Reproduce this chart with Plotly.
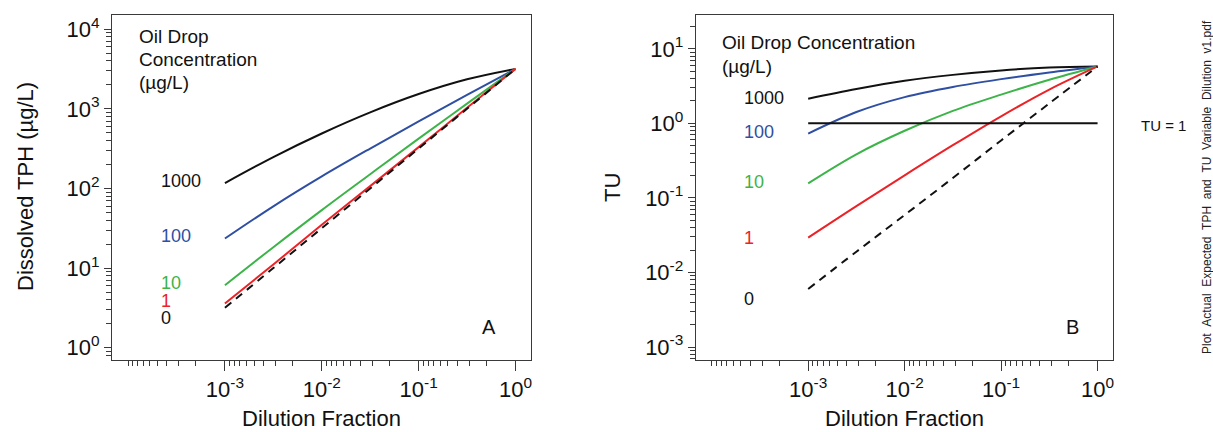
import plotly.graph_objects as go

# ---------------- data ----------------
dilution = [0.001, 0.00316, 0.01, 0.0316, 0.1, 0.316, 1.0]

# Panel A: dissolved TPH (ug/L) by oil drop concentration (ug/L)
tph_0 = [3.17, 10.0, 31.7, 100, 317, 1000, 3170]
tph_1 = [3.6, 11.1, 35.0, 107, 330, 1030, 3170]
tph_10 = [6.1, 18.3, 53.5, 151, 422, 1161, 3170]
tph_100 = [23.5, 59.7, 141.6, 317, 693, 1493, 3170]
tph_1000 = [117, 248, 490, 902, 1531, 2344, 3170]

# Panel B: toxic units
tu_0 = [0.0060, 0.019, 0.059, 0.185, 0.59, 1.85, 5.8]
tu_1 = [0.0294, 0.0778, 0.201, 0.509, 1.245, 2.84, 5.8]
tu_10 = [0.157, 0.385, 0.796, 1.47, 2.43, 3.85, 5.8]
tu_100 = [0.73, 1.42, 2.25, 3.08, 3.92, 4.82, 5.8]
tu_1000 = [2.14, 2.88, 3.72, 4.47, 5.13, 5.62, 5.8]

tu_ref_x = [0.001, 1.0]
tu_ref_y = [1.0, 1.0]

conc_labels = ["1000", "100", "10", "1", "0"]
x_tickvals = [0.001, 0.01, 0.1, 1.0]
x_ticktext = ["10<sup>-3</sup>", "10<sup>-2</sup>", "10<sup>-1</sup>", "10<sup>0</sup>"]
yA_tickvals = [1, 10, 100, 1000, 10000]
yA_ticktext = ["10<sup>0</sup>", "10<sup>1</sup>", "10<sup>2</sup>", "10<sup>3</sup>", "10<sup>4</sup>"]
yB_tickvals = [0.001, 0.01, 0.1, 1, 10]
yB_ticktext = ["10<sup>-3</sup>", "10<sup>-2</sup>", "10<sup>-1</sup>", "10<sup>0</sup>", "10<sup>1</sup>"]

# ---------------- style ----------------
W, H = 1213, 432
FONT = "Liberation Sans, Arial, Helvetica, sans-serif"
BLACK = "#111111"
BLUE = "#2f4fa3"
GREEN = "#3db449"
RED = "#ec2227"
FRAME = "#3a3a3a"
colors = [BLACK, BLUE, GREEN, RED, BLACK]


def fx(p):
    return p / W


def fy(p):
    return 1 - p / H


x_minor = [10 ** k * 10 / m for k in range(-4, 0) for m in range(2, 10)] + [1e-4]
yA_minor = [m * 10 ** k for k in range(-1, 4) for m in range(2, 10)]
yB_minor = [m * 10 ** k for k in range(-4, 2) for m in range(2, 10)]

fig = go.Figure()

seriesA = [tph_1000, tph_100, tph_10, tph_1, tph_0]
seriesB = [tu_1000, tu_100, tu_10, tu_1, tu_0]
for vals, col, lab in zip(seriesA, colors, conc_labels):
    fig.add_trace(go.Scatter(
        x=dilution, y=vals, mode="lines", name=lab, showlegend=False,
        line=dict(color=col, width=2, shape="spline",
                  dash="8px,6px" if lab == "0" else "solid"),
        xaxis="x", yaxis="y"))
for vals, col, lab in zip(seriesB, colors, conc_labels):
    fig.add_trace(go.Scatter(
        x=dilution, y=vals, mode="lines", name=lab, showlegend=False,
        line=dict(color=col, width=2, shape="spline",
                  dash="8px,6px" if lab == "0" else "solid"),
        xaxis="x2", yaxis="y2"))
fig.add_trace(go.Scatter(x=tu_ref_x, y=tu_ref_y, mode="lines", showlegend=False,
                         line=dict(color=BLACK, width=2), xaxis="x2", yaxis="y2"))

xrange = [-4.166, 0.16]
common_x = dict(type="log", range=xrange, showline=True, linecolor=FRAME, linewidth=1,
                mirror=True, ticks="outside", ticklen=10, tickwidth=1, tickcolor=FRAME,
                tickvals=x_tickvals, ticktext=x_ticktext, showgrid=False, zeroline=False,
                automargin=False,
                tickfont=dict(size=22, color=BLACK, family=FONT),
                minor=dict(tickvals=x_minor, ticks="outside", ticklen=5, tickwidth=1,
                           tickcolor=FRAME, showgrid=False))
common_y = dict(type="log", showline=True, linecolor=FRAME, linewidth=1, mirror=True,
                ticks="outside", ticklen=7, tickwidth=1, tickcolor=FRAME, showgrid=False,
                zeroline=False, automargin=False,
                tickfont=dict(size=22, color=BLACK, family=FONT))

ydom = [fy(360), fy(14.5)]
fig.update_layout(
    width=W, height=H, margin=dict(l=0, r=0, t=0, b=0, autoexpand=False),
    paper_bgcolor="white", plot_bgcolor="white",
    font=dict(family=FONT, color=BLACK),
    xaxis=dict(domain=[fx(112), fx(531)], anchor="y", **common_x),
    xaxis2=dict(domain=[fx(695.7), fx(1113)], anchor="y2", **common_x),
    yaxis=dict(domain=ydom, anchor="x", range=[-0.154, 4.184],
               tickvals=yA_tickvals, ticktext=yA_ticktext,
               minor=dict(tickvals=yA_minor, ticks="outside", ticklen=5, tickwidth=1,
                          tickcolor=FRAME, showgrid=False),
               **common_y),
    yaxis2=dict(domain=ydom, anchor="x2", range=[-3.174, 1.46],
                tickvals=yB_tickvals, ticktext=yB_ticktext,
                minor=dict(tickvals=yB_minor, ticks="outside", ticklen=5, tickwidth=1,
                           tickcolor=FRAME, showgrid=False),
                **common_y),
)

ann = []


def add(text, x, y, size, color=BLACK, xanchor="left", angle=0):
    ann.append(dict(text=text, x=fx(x), y=fy(y), xref="paper", yref="paper",
                    xanchor=xanchor, yanchor="middle", showarrow=False, textangle=angle,
                    font=dict(size=size, color=color, family=FONT)))


# axis titles
add("Dissolved TPH (µg/L)", 25, 187, 22, xanchor="center", angle=-90)
add("TU", 613, 188, 22, xanchor="center", angle=-90)
add("Dilution Fraction", 321, 418, 22, xanchor="center")
add("Dilution Fraction", 904, 418, 22, xanchor="center")

# panel A labels
add("Oil Drop", 137, 36, 19)
add("Concentration", 137, 59, 19)
add("(µg/L)", 137, 82, 19)
for lab, col, yy in zip(conc_labels, colors, [181, 236, 283, 301, 318]):
    add(lab, 159, yy, 18, col)
add("A", 489, 327, 20, xanchor="center")

# panel B labels
add("Oil Drop Concentration", 720, 43, 19)
add("(µg/L)", 720, 66, 19)
for lab, col, yy in zip(conc_labels, colors, [98, 132, 182, 238, 299]):
    add(lab, 742, yy, 18, col)
add("B", 1072, 327, 20, xanchor="center")
add("TU = 1", 1139, 125, 15)

add("Plot \u00a0Actual \u00a0Expected \u00a0TPH \u00a0and \u00a0TU \u00a0Variable \u00a0Dilution \u00a0v1.pdf",
    1207, 187, 12, color="#222222", xanchor="center", angle=-90)

fig.update_layout(annotations=ann)
fig.write_html("out.html",
               config={"displayModeBar": False, "staticPlot": True},
               post_script="document.body.style.margin='0';document.body.style.overflow='hidden';")
